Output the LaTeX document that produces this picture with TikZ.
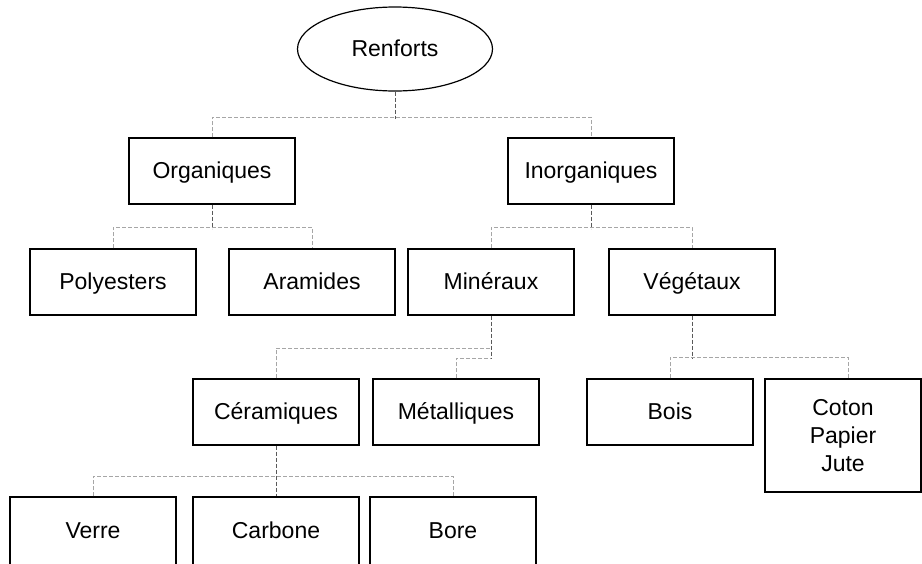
\documentclass[tikz,border=0pt]{standalone}
\usepackage{fontspec}
\setmainfont{Liberation Sans}
\usetikzlibrary{shapes.geometric,calc}
\begin{document}
\begin{tikzpicture}[x=1pt,y=-1pt,
  basebox/.style={draw=black, line width=1.2pt, minimum width=166pt, minimum height=66pt,
    inner sep=0pt, font=\fontsize{23}{28}\selectfont, align=center},
  box/.style={basebox, text height=18pt, text depth=4pt},
  lowbox/.style={basebox, minimum height=80pt, text height=11pt, text depth=9pt},
  stem/.style={draw=black!65, dash pattern=on 4pt off 2pt, line width=0.9pt},
  branch/.style={draw=black!35, dash pattern=on 4pt off 2pt, line width=0.9pt}]
\useasboundingbox (0,0) rectangle (922,563);
\clip (0,0) rectangle (922,563);

\node[ellipse, draw=black, line width=1.2pt, minimum width=195pt, minimum height=84pt,
  inner sep=0pt, font=\fontsize{23}{28}\selectfont, text height=18pt, text depth=4pt] (renf) at (395,49) {Renforts};

\node[box] (org) at (212,171) {Organiques};
\node[box] (inorg) at (591,171) {Inorganiques};

\node[box] (poly) at (113,282) {Polyesters};
\node[box] (ara) at (312,282) {Aramides};
\node[box] (min) at (491,282) {Minéraux};
\node[box] (veg) at (692,282) {Végétaux};

\node[box] (cer) at (276,412) {Céramiques};
\node[box] (met) at (456,412) {Métalliques};
\node[box] (bois) at (670,412) {Bois};
\node[basebox, minimum width=156pt, minimum height=113pt] (coton) at (843,435.5) {Coton\\Papier\\Jute};

\node[lowbox] (verre) at (93,537) {Verre};
\node[lowbox] (carb) at (276,537) {Carbone};
\node[lowbox] (bore) at (453,537) {Bore};

% branches
\draw[branch] (org.north) -- ++(0,-20) -| (inorg.north);
\draw[branch] (poly.north) -- ++(0,-21) -| (ara.north);
\draw[branch] (min.north) -- ++(0,-21) -| (veg.north);
\coordinate (minA) at ($(min.south)+(0,33)$);
\coordinate (minB) at ($(min.south)+(0,43)$);
\draw[branch] (cer.north) |- (minA);
\draw[branch] (met.north) |- (minB);
\coordinate (cotontop) at ($(coton.north)+(5,0)$);
\draw[branch] (bois.north) -- ++(0,-21) -| (cotontop);
\draw[branch] (verre.north) -- ++(0,-20) -| (bore.north);

% stems
\draw[stem] (renf.south) -- ++(0,27);
\draw[stem] (org.south) -- ++(0,24);
\draw[stem] (inorg.south) -- ++(0,24);
\draw[stem] (min.south) -- (minB);
\draw[stem] (veg.south) -- ++(0,43);
\draw[stem] (cer.south) -- (carb.north);
\end{tikzpicture}
\end{document}
